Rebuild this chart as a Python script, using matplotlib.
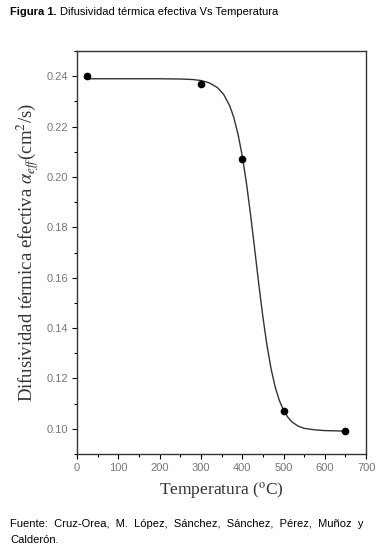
import matplotlib
matplotlib.use("Agg")
import matplotlib.pyplot as plt
from matplotlib.ticker import MultipleLocator

plt.rcParams["mathtext.fontset"] = "stix"

# Data points
temp_pts = [25, 300, 400, 500, 650]
alpha_pts = [0.240, 0.237, 0.207, 0.107, 0.099]

# Fitted curve
curve_t = [25, 100, 200, 250, 280, 300, 320, 340, 355, 370, 380, 390, 400,
           410, 420, 430, 440, 450, 460, 470, 480, 490, 500, 510, 520, 535,
           550, 575, 600, 625, 650]
curve_a = [0.2390, 0.2390, 0.2390, 0.2389, 0.2387, 0.2383, 0.2374, 0.2355,
           0.2328, 0.2282, 0.2234, 0.2169, 0.2084, 0.1978, 0.1853, 0.1716,
           0.1576, 0.1445, 0.1331, 0.1237, 0.1165, 0.1112, 0.1074, 0.1047,
           0.1028, 0.1011, 0.1002, 0.0996, 0.0993, 0.0992, 0.0991]

x_ticks = [0, 100, 200, 300, 400, 500, 600, 700]
y_ticks = [0.10, 0.12, 0.14, 0.16, 0.18, 0.20, 0.22, 0.24]

title_bold = "Figura 1."
title_rest = "Difusividad térmica efectiva Vs Temperatura"
source_line1 = "Fuente:  Cruz-Orea,  M.  López,  Sánchez,  Sánchez,  Pérez,  Muñoz  y"
source_line2 = "Calderón."

sans = "Liberation Sans"

fig = plt.figure(figsize=(3.83, 5.52), dpi=100)
ax = fig.add_axes([0.201, 0.1775, 0.755, 0.730])

ax.plot(curve_t, curve_a, color="#333333", lw=1.0)
ax.plot(temp_pts, alpha_pts, "o", color="black", ms=4.5)

ax.set_xlim(0, 700)
ax.set_ylim(0.09, 0.25)
ax.set_xticks(x_ticks)
ax.set_yticks(y_ticks)
ax.set_yticklabels([f"{v:.2f}" for v in y_ticks])
ax.xaxis.set_minor_locator(MultipleLocator(50))
ax.yaxis.set_minor_locator(MultipleLocator(0.01))
ax.tick_params(which="major", direction="out", length=3.5, width=0.8,
               labelsize=8, labelcolor="#777777", pad=3)
ax.tick_params(which="minor", direction="out", length=2.5, width=0.8)
for lab in ax.get_xticklabels() + ax.get_yticklabels():
    lab.set_fontfamily(sans)
for s in ax.spines.values():
    s.set_linewidth(1.0)
    s.set_color("#333333")

ax.set_xlabel("Temperatura ($^{\\mathrm{o}}$C)", family="Liberation Serif",
              fontsize=12.5, color="#333333", labelpad=5)
ax.set_ylabel("Difusividad térmica efectiva $\\alpha_{eff}$(cm$^2$/s)",
              family="Liberation Serif", fontsize=13.5, color="#333333", labelpad=4)

t1 = fig.text(0.026, 0.978, title_bold, family=sans, weight="bold", fontsize=8,
              va="center", ha="left")
fig.canvas.draw()
bb = t1.get_window_extent(renderer=fig.canvas.get_renderer())
x_rest = (bb.x1 + 3) / fig.bbox.width
fig.text(x_rest, 0.978, title_rest, family=sans, fontsize=8,
         va="center", ha="left")
fig.text(0.026, 0.050, source_line1, family=sans, fontsize=8, va="center", ha="left")
fig.text(0.026, 0.021, source_line2, family=sans, fontsize=8, va="center", ha="left")

fig.savefig("out.png", dpi=100)
